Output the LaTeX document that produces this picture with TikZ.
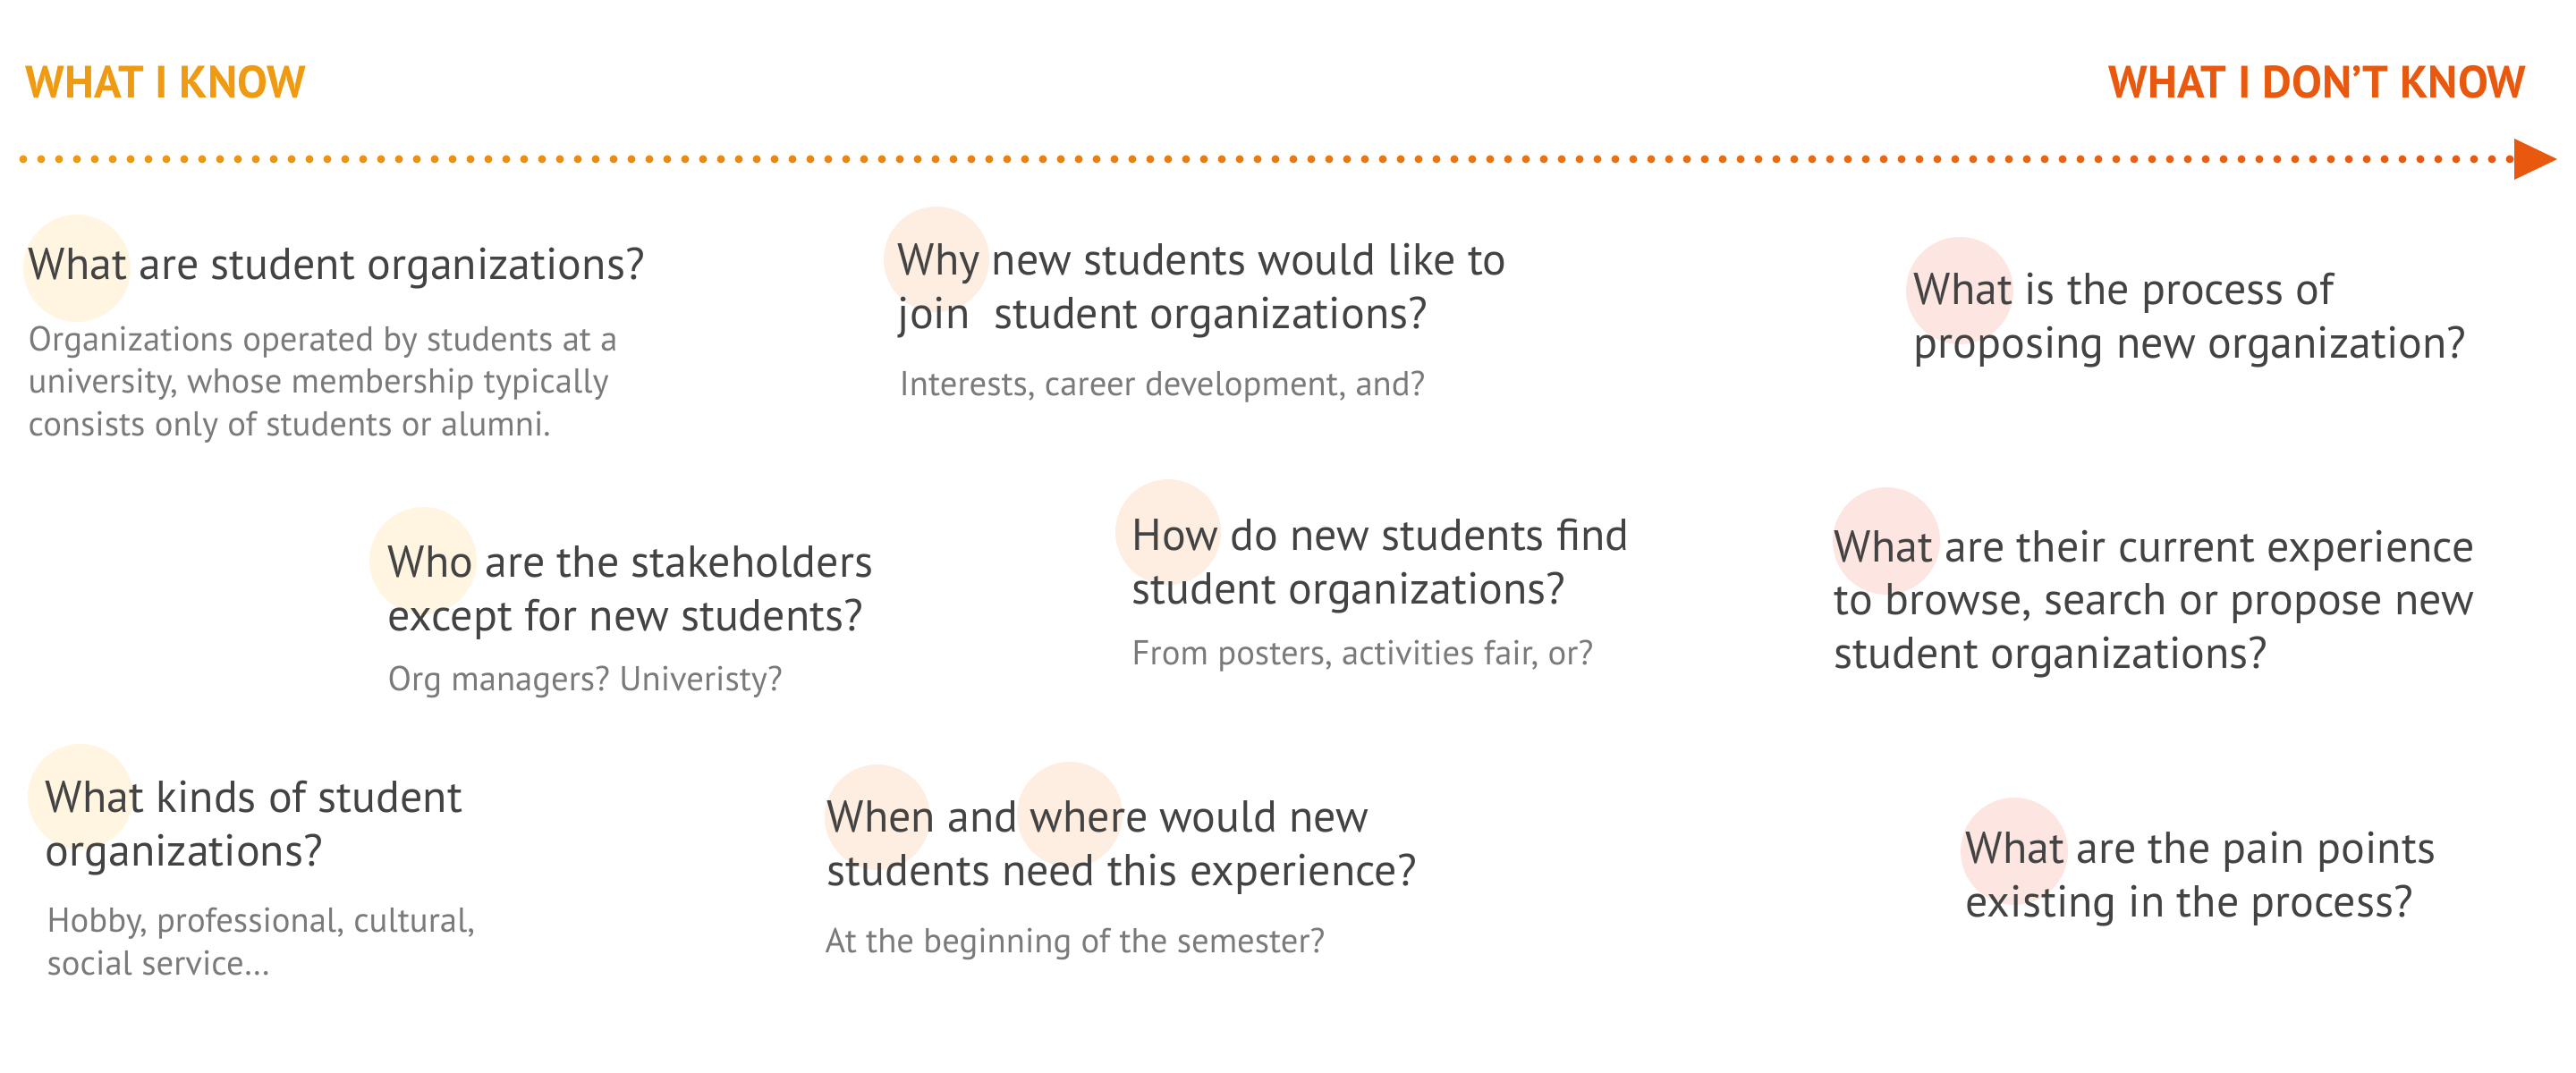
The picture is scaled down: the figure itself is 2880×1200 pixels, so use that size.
\documentclass[tikz,border=0pt]{standalone}
\usepackage{fontspec}
\setmainfont{PT Sans}
\usetikzlibrary{calc}
\frenchspacing

\definecolor{knowcol}{HTML}{EE9A12}
\definecolor{dontcol}{HTML}{E8590F}
\definecolor{qtext}{HTML}{434343}
\definecolor{atext}{HTML}{7A7A7A}
\definecolor{spotyel}{HTML}{FFF5E1}
\definecolor{spotpea}{HTML}{FEEDE1}
\definecolor{spotpin}{HTML}{FDE6E1}

% base anchor = baseline of the last line
\tikzset{
  quest/.style={anchor=base west, align=left, inner sep=0pt, text=qtext,
    font=\fontsize{14.2}{16.9}\selectfont},
  answ/.style={anchor=base west, align=left, inner sep=0pt, text=atext,
    font=\fontsize{11}{13.5}\selectfont},
  head/.style={inner sep=0pt, font=\fontsize{14.4}{16}\selectfont\bfseries},
}

\begin{document}
\begin{tikzpicture}[x=0.01cm, y=-0.01cm]
  \useasboundingbox (0,0) rectangle (2880,1200);

  % Headings
  \node[head, text=knowcol, anchor=base west] (know) at (28,110) {WHAT I KNOW};
  \node[head, text=dontcol, anchor=base east] (dont) at (2825,110) {WHAT I DON’T KNOW};

  % Dotted axis
  \coordinate (tail) at (26,178);
  \coordinate (tip) at (2859,178);
  \foreach \i in {0,...,139}{
    \pgfmathsetmacro{\mix}{100*\i/139}
    \fill[dontcol!\mix!knowcol] ($(tail)+(20*\i,0)$) circle[radius=4.5];
  }
  \fill[dontcol] (tip) -- ++(-48,-23) -- ++(0,46) -- cycle;

  % Spots
  \fill[spotyel] (86,300) circle[radius=60];
  \fill[spotyel] (473,627) circle[radius=60];
  \fill[spotyel] (90,891) circle[radius=59];
  \fill[spotpea] (1047,290) circle[radius=59];
  \fill[spotpea] (1306,595) circle[radius=59];
  \fill[spotpea] (981,914) circle[radius=59];
  \fill[spotpea] (1196,911) circle[radius=59];
  \fill[spotpin] (2191,325) circle[radius=60];
  \fill[spotpin] (2109,605) circle[radius=60];
  \fill[spotpin] (2252,952) circle[radius=60];

  % Questions
  \node[quest] (q1) at (31,312) {What are student organizations?};
  \node[answ] (a1) at (31,487) {Organizations operated by students at a\\
    university, whose membership typically\\consists only of students or alumni.};

  \node[quest] (q2) at (1003,367) {Why new students would like to\\join~ student organizations?};
  \node[answ] (a2) at (1005,442) {Interests, career development, and?};

  \node[quest] (q3) at (2139,400) {What is the process of\\proposing new organization?};

  \node[quest] (q4) at (433,705) {Who are the stakeholders\\except for new students?};
  \node[answ] (a4) at (433,772) {Org managers? Univeristy?};

  \node[quest] (q5) at (1265,675) {How do new students find\\student organizations?};
  \node[answ] (a5) at (1265,743) {From posters, activities fair, or?};

  \node[quest] (q6) at (2050,747) {What are their current experience\\
    to browse, search or propose new\\student organizations?};

  \node[quest] (q7) at (50,968) {What kinds of student\\organizations?};
  \node[answ] (a7) at (52,1090) {Hobby, professional, cultural,\\social service…};

  \node[quest] (q8) at (924,990) {When and where would new\\students need this experience?};
  \node[answ] (a8) at (922,1065) {At the beginning of the semester?};

  \node[quest] (q9) at (2197,1025) {What are the pain points\\existing in the process?};
\end{tikzpicture}
\end{document}
